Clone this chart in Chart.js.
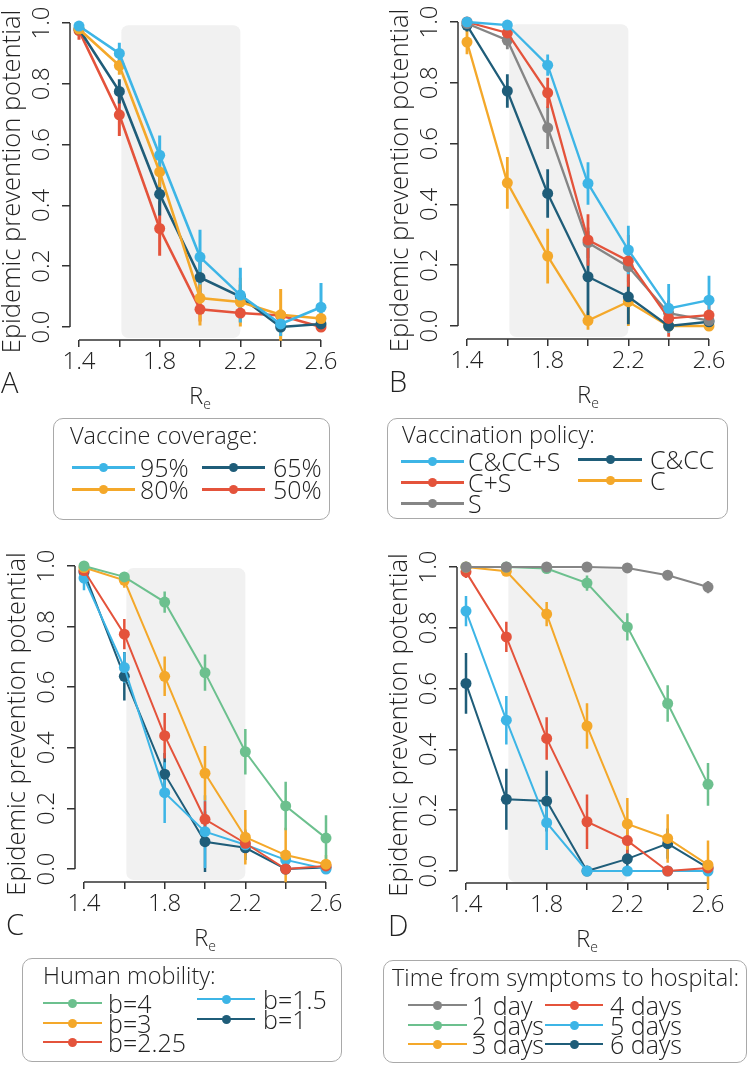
<!DOCTYPE html>
<html>
<head>
<meta charset="utf-8">
<script src="https://cdn.jsdelivr.net/npm/chart.js@4.4.1/dist/chart.umd.min.js"></script>
<style>
  body { margin: 0; background: #fff; }
  #page { position: relative; width: 750px; height: 1066px; overflow: hidden;
          font-family: "Open Sans", "Liberation Sans", Arial, sans-serif; font-weight: 300; color: #222; }
  canvas { position: absolute; }
  .letter { position: absolute; font-size: 29px; line-height: 1; }
  .xlab { position: absolute; font-size: 24px; line-height: 1; transform: translateX(-50%); }
  .xlab sub { font-size: 14px; vertical-align: -5px; }
  .legend { position: absolute; border: 1px solid #a9a9a9; border-radius: 10px; box-sizing: border-box; }
  .legend .ttl, .legend .txt { position: absolute; line-height: 1; white-space: nowrap; transform: translateY(-50%); }
  .legend .ttl { font-size: 23.5px; }
  .legend .txt { font-size: 25px; }
  .legend .ln, .legend .dot { position: absolute; }
  .legend .dot { border-radius: 50%; }
</style>
</head>
<body>
<div id="page"></div>
<script>
// x positions (R_e) and tick labels
const xValues = [1.4, 1.6, 1.8, 2.0, 2.2, 2.4, 2.6];
const xTickText = ["1.4", "", "1.8", "", "2.2", "", "2.6"];
const yTicks = [0, 0.2, 0.4, 0.6, 0.8, 1.0];
const yTickText = ["0.0", "0.2", "0.4", "0.6", "0.8", "1.0"];
const shadeX = [1.61, 2.2];
const shadeY = [-0.036, 0.993];

const BLUE = "#3db5e6", ORANGE = "#f4a82a", DARK = "#1f5d79", RED = "#e4533b", GRAY = "#858585", GREEN = "#6cc08e";

// panel A: vaccine coverage
const a95 = [0.99, 0.90, 0.565, 0.23, 0.105, 0.01, 0.065];
const a95Err = [0.01, 0.035, 0.065, 0.09, 0.09, 0.04, 0.08];
const a80 = [0.98, 0.86, 0.51, 0.095, 0.082, 0.04, 0.028];
const a80Err = [0.01, 0.03, 0.05, 0.09, 0.08, 0.085, 0.03];
const a65 = [0.98, 0.775, 0.437, 0.163, 0.10, 0.0, 0.01];
const a65Err = [0.01, 0.04, 0.07, 0.06, 0.04, 0.01, 0.01];
const a50 = [0.975, 0.698, 0.324, 0.058, 0.046, 0.038, 0.0];
const a50Err = [0.03, 0.07, 0.09, 0.04, 0.03, 0.02, 0.01];

// panel B: vaccination policy
const bCCS = [1.0, 0.99, 0.858, 0.469, 0.25, 0.058, 0.085];
const bCCSErr = [0.01, 0.015, 0.035, 0.07, 0.08, 0.08, 0.08];
const bCS = [1.0, 0.964, 0.767, 0.283, 0.214, 0.025, 0.036];
const bCSErr = [0.01, 0.02, 0.05, 0.085, 0.085, 0.06, 0.04];
const bS = [0.995, 0.94, 0.652, 0.274, 0.195, 0.042, 0.018];
const bSErr = [0.01, 0.03, 0.07, 0.05, 0.05, 0.04, 0.02];
const bCC = [0.989, 0.773, 0.436, 0.162, 0.096, 0.0, 0.014];
const bCCErr = [0.02, 0.055, 0.08, 0.15, 0.09, 0.01, 0.02];
const bC = [0.934, 0.471, 0.23, 0.018, 0.08, 0.0, 0.0];
const bCErr = [0.04, 0.085, 0.09, 0.03, 0.08, 0.01, 0.01];

// panel C: human mobility
const cB4 = [1.0, 0.964, 0.881, 0.648, 0.387, 0.208, 0.102];
const cB4Err = [0.005, 0.01, 0.035, 0.06, 0.075, 0.08, 0.075];
const cB3 = [0.995, 0.953, 0.636, 0.316, 0.105, 0.046, 0.016];
const cB3Err = [0.01, 0.025, 0.065, 0.09, 0.09, 0.09, 0.03];
const cB225 = [0.985, 0.775, 0.44, 0.164, 0.085, 0.0, 0.01];
const cB225Err = [0.02, 0.05, 0.075, 0.06, 0.04, 0.01, 0.01];
const cB15 = [0.96, 0.665, 0.252, 0.123, 0.08, 0.03, 0.0];
const cB15Err = [0.04, 0.05, 0.1, 0.12, 0.05, 0.02, 0.01];
const cB1 = [0.98, 0.636, 0.313, 0.09, 0.07, 0.0, 0.005];
const cB1Err = [0.02, 0.08, 0.07, 0.1, 0.04, 0.01, 0.01];

// panel D: time from symptoms to hospital
const d1 = [1.0, 1.0, 1.0, 1.0, 0.997, 0.973, 0.934];
const d1Err = [0, 0, 0, 0, 0.005, 0.01, 0.02];
const d2 = [1.0, 1.0, 0.995, 0.947, 0.803, 0.551, 0.285];
const d2Err = [0, 0, 0.01, 0.025, 0.045, 0.06, 0.07];
const d3 = [1.0, 0.986, 0.845, 0.477, 0.155, 0.107, 0.02];
const d3Err = [0, 0.015, 0.04, 0.075, 0.085, 0.08, 0.08];
const d4 = [0.984, 0.77, 0.436, 0.162, 0.1, 0.0, 0.01];
const d4Err = [0.02, 0.05, 0.07, 0.09, 0.06, 0.01, 0.01];
const d5 = [0.855, 0.496, 0.159, 0.0, 0.0, 0.0, 0.0];
const d5Err = [0.05, 0.08, 0.09, 0.01, 0.01, 0.01, 0.01];
const d6 = [0.617, 0.236, 0.23, 0.0, 0.04, 0.09, 0.01];
const d6Err = [0.1, 0.1, 0.1, 0.01, 0.05, 0.05, 0.02];

const page = document.getElementById("page");
Chart.defaults.font.family = '"Open Sans", "Liberation Sans", Arial, sans-serif';
Chart.defaults.font.weight = 300;
Chart.defaults.color = "#222";

const panels = [
  { letter: "A", axisX: 70, yTop: 23, yZero: 327, xAxisY: 340, x14: 79, x26: 321, lineW: 2.6, errW: 3, pointR: 5.5,
    series: [
      { label: "95%", color: BLUE, values: a95, errors: a95Err },
      { label: "80%", color: ORANGE, values: a80, errors: a80Err },
      { label: "65%", color: DARK, values: a65, errors: a65Err },
      { label: "50%", color: RED, values: a50, errors: a50Err }
    ],
    legend: { title: "Vaccine coverage:", box: [53, 418, 277, 102], titleX: 70, titleY: 436, split: 2,
      cols: [[72, 135, 140], [202, 265, 273]], rows: [[467, 489], [467, 489]], lw: 3, r: 4.5 } },
  { letter: "B", axisX: 458, yTop: 22, yZero: 326, xAxisY: 339, x14: 467, x26: 709, lineW: 2.3, errW: 2.8, pointR: 5.5,
    series: [
      { label: "C&CC+S", color: BLUE, values: bCCS, errors: bCCSErr },
      { label: "C+S", color: RED, values: bCS, errors: bCSErr },
      { label: "S", color: GRAY, values: bS, errors: bSErr },
      { label: "C&CC", color: DARK, values: bCC, errors: bCCErr },
      { label: "C", color: ORANGE, values: bC, errors: bCErr }
    ],
    legend: { title: "Vaccination policy:", box: [387, 418, 341, 101], titleX: 402, titleY: 435, split: 3,
      cols: [[401, 464, 468], [578, 642, 650]], rows: [[461, 482, 503], [459, 480]], lw: 3, r: 4.5 } },
  { letter: "C", axisX: 75, yTop: 566, yZero: 869, xAxisY: 882, x14: 84, x26: 326, lineW: 2, errW: 2.5, pointR: 5.5,
    series: [
      { label: "b=4", color: GREEN, values: cB4, errors: cB4Err },
      { label: "b=3", color: ORANGE, values: cB3, errors: cB3Err },
      { label: "b=2.25", color: RED, values: cB225, errors: cB225Err },
      { label: "b=1.5", color: BLUE, values: cB15, errors: cB15Err },
      { label: "b=1", color: DARK, values: cB1, errors: cB1Err }
    ],
    legend: { title: "Human mobility:", box: [22, 958, 320, 104], titleX: 43, titleY: 976, split: 3,
      cols: [[43, 102, 108], [197, 255, 263]], rows: [[1003, 1023, 1042], [999, 1019]], lw: 2, r: 4.5 } },
  { letter: "D", axisX: 457, yTop: 567, yZero: 871, xAxisY: 883, x14: 466, x26: 708, lineW: 2, errW: 2.5, pointR: 5.5,
    series: [
      { label: "1 day", color: GRAY, values: d1, errors: d1Err },
      { label: "2 days", color: GREEN, values: d2, errors: d2Err },
      { label: "3 days", color: ORANGE, values: d3, errors: d3Err },
      { label: "4 days", color: RED, values: d4, errors: d4Err },
      { label: "5 days", color: BLUE, values: d5, errors: d5Err },
      { label: "6 days", color: DARK, values: d6, errors: d6Err }
    ],
    legend: { title: "Time from symptoms to hospital:", box: [383, 960, 364, 103], titleX: 392, titleY: 978, split: 3,
      cols: [[408, 467, 472], [545, 603, 610]], rows: [[1005, 1025, 1044], [1005, 1025, 1044]], lw: 2, r: 4.5 } }
];

// grey band behind the curves
const shadePlugin = {
  id: "shade",
  beforeDatasetsDraw(chart) {
    const { ctx, scales: { x, y } } = chart;
    const x0 = x.getPixelForValue(shadeX[0]), x1 = x.getPixelForValue(shadeX[1]);
    const y0 = y.getPixelForValue(shadeY[1]), y1 = y.getPixelForValue(shadeY[0]);
    ctx.save();
    ctx.fillStyle = "#f1f1f1";
    ctx.beginPath();
    ctx.roundRect(x0, y0, x1 - x0, y1 - y0, 7);
    ctx.fill();
    ctx.restore();
  }
};

// base-R style axis lines that only span the tick range
const axisPlugin = {
  id: "rAxes",
  beforeDatasetsDraw(chart) {
    const { ctx, chartArea, scales: { x, y } } = chart;
    ctx.save();
    ctx.strokeStyle = "#333";
    ctx.lineWidth = 1.5;
    ctx.beginPath();
    ctx.moveTo(x.getPixelForValue(xValues[0]), chartArea.bottom);
    ctx.lineTo(x.getPixelForValue(xValues[xValues.length - 1]), chartArea.bottom);
    ctx.moveTo(chartArea.left, y.getPixelForValue(yTicks[0]));
    ctx.lineTo(chartArea.left, y.getPixelForValue(yTicks[yTicks.length - 1]));
    ctx.stroke();
    ctx.restore();
  }
};

// vertical error bars
const errorPlugin = {
  id: "errBars",
  beforeDatasetsDraw(chart, args, opts) {
    const { ctx, scales: { x, y } } = chart;
    ctx.save();
    ctx.lineWidth = opts.width;
    for (let d = chart.data.datasets.length - 1; d >= 0; d--) {
      const ds = chart.data.datasets[d];
      ctx.strokeStyle = ds.borderColor;
      ctx.beginPath();
      ds.data.forEach((pt, i) => {
        const e = ds.errors[i];
        if (!e) return;
        const px = x.getPixelForValue(pt.x);
        ctx.moveTo(px, y.getPixelForValue(pt.y - e));
        ctx.lineTo(px, y.getPixelForValue(pt.y + e));
      });
      ctx.stroke();
    }
    ctx.restore();
  }
};

function makeChart(p) {
  const W = 375, H = 385;
  const left = p.axisX - 70, top = p.yTop - 23;
  const cv = document.createElement("canvas");
  cv.width = W; cv.height = H;
  cv.style.left = left + "px";
  cv.style.top = top + "px";
  page.appendChild(cv);

  const xUnit = (p.x26 - p.x14) / (xValues[6] - xValues[0]);
  const yUnit = p.yZero - p.yTop;
  const plotRight = p.x26 + 15 - left;
  const plotBottom = p.xAxisY - top;

  new Chart(cv.getContext("2d"), {
    type: "line",
    data: {
      datasets: p.series.map(s => ({
        label: s.label,
        data: xValues.map((x, i) => ({ x, y: s.values[i] })),
        errors: s.errors,
        borderColor: s.color,
        backgroundColor: s.color,
        pointBackgroundColor: s.color,
        pointBorderWidth: 0,
        pointRadius: p.pointR,
        borderWidth: p.lineW,
        tension: 0,
        clip: false
      }))
    },
    options: {
      responsive: false,
      animation: false,
      devicePixelRatio: 1,
      layout: { padding: { top: 23, left: 0, bottom: 0, right: W - plotRight } },
      plugins: {
        legend: { display: false },
        tooltip: { enabled: false },
        errBars: { width: p.errW }
      },
      scales: {
        x: {
          type: "linear",
          min: xValues[0] - (p.x14 - p.axisX) / xUnit,
          max: xValues[6] + 15 / xUnit,
          afterBuildTicks: sc => { sc.ticks = xValues.map(v => ({ value: v })); },
          afterFit: sc => { sc.height = H - plotBottom; },
          border: { display: false },
          grid: { drawOnChartArea: false, drawTicks: true, tickLength: 7, color: "#333", lineWidth: 1.5 },
          ticks: { autoSkip: false, maxRotation: 0, padding: 1, font: { size: 24 },
                   callback: (v, i) => xTickText[i] }
        },
        y: {
          min: -(p.xAxisY - p.yZero) / yUnit,
          max: 1,
          afterBuildTicks: sc => { sc.ticks = yTicks.map(v => ({ value: v })); },
          afterFit: sc => { sc.width = 70; },
          border: { display: false },
          grid: { drawOnChartArea: false, drawTicks: true, tickLength: 8, color: "#333", lineWidth: 1.5 },
          ticks: { autoSkip: false, minRotation: 90, maxRotation: 90, crossAlign: "center", padding: 3,
                   font: { size: 24 }, callback: (v, i) => yTickText[i] },
          title: { display: true, text: "Epidemic prevention potential", padding: 0,
                   font: { size: 25.5, lineHeight: 1 } }
        }
      }
    },
    plugins: [shadePlugin, axisPlugin, errorPlugin]
  });

  const xl = document.createElement("div");
  xl.className = "xlab";
  xl.innerHTML = "R<sub>e</sub>";
  xl.style.left = ((p.x14 + p.x26) / 2) + "px";
  xl.style.top = (p.xAxisY + 43) + "px";
  page.appendChild(xl);

  const lt = document.createElement("div");
  lt.className = "letter";
  lt.textContent = p.letter;
  lt.style.left = (p.axisX - 69) + "px";
  lt.style.top = (p.xAxisY + 27) + "px";
  page.appendChild(lt);
}

function makeLegend(p) {
  const L = p.legend;
  const box = document.createElement("div");
  box.className = "legend";
  Object.assign(box.style, { left: L.box[0] + "px", top: L.box[1] + "px", width: L.box[2] + "px", height: L.box[3] + "px" });
  const ox = L.box[0] + 1, oy = L.box[1] + 1;

  const t = document.createElement("div");
  t.className = "ttl";
  t.textContent = L.title;
  t.style.left = (L.titleX - ox) + "px";
  t.style.top = (L.titleY - oy) + "px";
  box.appendChild(t);

  p.series.forEach((s, i) => {
    const col = i < L.split ? 0 : 1;
    const row = col ? i - L.split : i;
    const y = L.rows[col][row] - oy;
    const [x0, x1, tx] = L.cols[col];
    const ln = document.createElement("div");
    ln.className = "ln";
    Object.assign(ln.style, { left: (x0 - ox) + "px", top: (y - L.lw / 2) + "px", width: (x1 - x0) + "px",
                              height: L.lw + "px", background: s.color });
    const dot = document.createElement("div");
    dot.className = "dot";
    Object.assign(dot.style, { left: ((x0 + x1) / 2 - ox - L.r) + "px", top: (y - L.r) + "px",
                               width: 2 * L.r + "px", height: 2 * L.r + "px", background: s.color });
    const tx_ = document.createElement("div");
    tx_.className = "txt";
    tx_.textContent = s.label;
    tx_.style.left = (tx - ox) + "px";
    tx_.style.top = y + "px";
    box.append(ln, dot, tx_);
  });
  page.appendChild(box);
}

panels.forEach(p => { makeChart(p); makeLegend(p); });
</script>
</body>
</html>
